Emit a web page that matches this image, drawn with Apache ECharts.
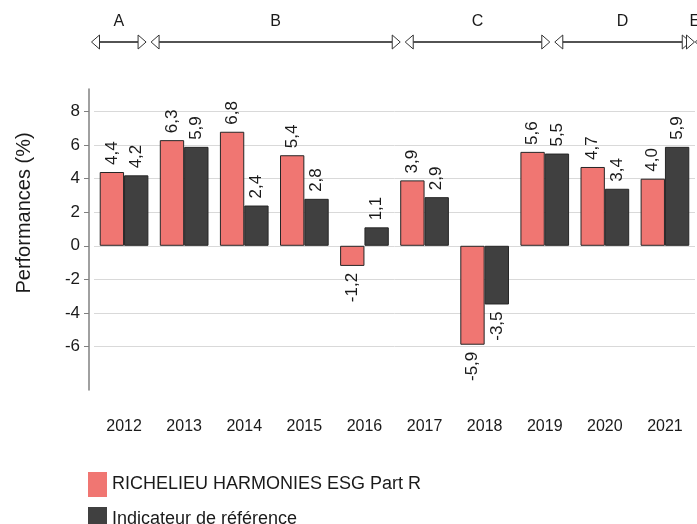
<!DOCTYPE html>
<html>
<head>
<meta charset="utf-8">
<script src="https://cdn.jsdelivr.net/npm/echarts@6/dist/echarts.min.js"></script>
<style>
html, body { margin: 0; padding: 0; background: #fff; }
#chart { width: 697px; height: 524px; }
</style>
</head>
<body>
<div id="chart"></div>
<script>
// données du graphique
var years = ['2012', '2013', '2014', '2015', '2016', '2017', '2018', '2019', '2020', '2021'];
var fundValues = [4.4, 6.3, 6.8, 5.4, -1.2, 3.9, -5.9, 5.6, 4.7, 4.0];
var benchValues = [4.2, 5.9, 2.4, 2.8, 1.1, 2.9, -3.5, 5.5, 3.4, 5.9];
var seriesNames = ['RICHELIEU HARMONIES ESG Part R', 'Indicateur de référence'];
var yTicks = [-6, -4, -2, 0, 2, 4, 6, 8];

// périodes (échelle continue en années)
var periodNames = ['A', 'B', 'C', 'D', 'E'];
var periodStart = [2012.0, 2012.98, 2017.16, 2019.62, 2021.93];
var periodEnd = [2012.98, 2017.16, 2019.62, 2021.93, 2022.0];

var FONT = '"Liberation Sans", Arial, sans-serif';

function formatValue(v) {
    return v.toFixed(1).replace('.', ',');
}

function barData(values) {
    return values.map(function(v) {
        return {
            value: v,
            label: v < 0 ? { position: 'bottom', align: 'right' } : {}
        };
    });
}

function renderPeriod(params, api) {
    var s = api.coord([api.value(0), 0]);
    var e = api.coord([api.value(1), 0]);
    var y = s[1];
    var x1 = s[0] + 2.5;
    var x2 = e[0] - 2.5;
    var d = 8, h = 7;
    var children = [];
    if (x2 - x1 > 2 * d) {
        children.push({
            type: 'line',
            shape: { x1: x1 + d, y1: y, x2: x2 - d, y2: y },
            style: { stroke: '#1a1a1a', lineWidth: 1.3 }
        });
    }
    children.push({
        type: 'polygon',
        shape: { points: [[x1, y], [x1 + d, y - h], [x1 + d, y + h]] },
        style: { fill: '#fff', stroke: '#333', lineWidth: 1 }
    });
    children.push({
        type: 'polygon',
        shape: { points: [[x2, y], [x2 - d, y - h], [x2 - d, y + h]] },
        style: { fill: '#fff', stroke: '#333', lineWidth: 1 }
    });
    children.push({
        type: 'text',
        style: {
            text: periodNames[params.dataIndex],
            x: (s[0] + e[0]) / 2,
            y: y - 20,
            align: 'center',
            verticalAlign: 'middle',
            fontSize: 16,
            fontFamily: FONT,
            fill: '#1a1a1a'
        }
    });
    return { type: 'group', children: children };
}

var chart = echarts.init(document.getElementById('chart'));

var barLabel = {
    show: true,
    rotate: 90,
    position: 'top',
    align: 'left',
    verticalAlign: 'middle',
    distance: 7,
    fontSize: 17,
    fontFamily: FONT,
    color: '#1a1a1a',
    formatter: function(p) { return formatValue(p.value); }
};

var option = {
    animation: false,
    textStyle: { fontFamily: FONT },
    grid: [
        { left: 94, right: 2, top: 89, bottom: 134 },
        { left: 89, right: 0, top: 30, height: 24 }
    ],
    legend: {
        data: seriesNames,
        orient: 'vertical',
        left: 83,
        top: 467,
        height: 90,
        icon: 'rect',
        itemWidth: 19,
        itemHeight: 25,
        itemGap: 10,
        itemStyle: { borderWidth: 0 },
        textStyle: { fontSize: 18, color: '#1a1a1a' }
    },
    xAxis: [{
        type: 'category',
        gridIndex: 0,
        data: years,
        axisLine: { show: false, onZero: false },
        axisTick: { show: false },
        axisLabel: { fontSize: 16, color: '#1a1a1a', margin: 29 }
    }, {
        type: 'value',
        gridIndex: 1,
        min: 2012,
        max: 2022,
        show: false
    }],
    yAxis: [{
        type: 'value',
        gridIndex: 0,
        min: -8.6,
        max: 9.35,
        offset: 5,
        axisLine: { show: true, lineStyle: { color: '#808080', width: 1.5 } },
        axisTick: { show: true, length: 5, customValues: yTicks, lineStyle: { color: '#808080', width: 1 } },
        axisLabel: { customValues: yTicks, fontSize: 17, color: '#1a1a1a', margin: 9 },
        splitLine: { show: true, lineStyle: { color: '#d9d9d9', width: 1 } }
    }, {
        type: 'value',
        gridIndex: 1,
        min: -1,
        max: 1,
        show: false
    }],
    graphic: [{
        type: 'text',
        x: 24,
        y: 213,
        rotation: Math.PI / 2,
        style: {
            text: 'Performances (%)',
            x: 0,
            y: 0,
            align: 'center',
            verticalAlign: 'middle',
            fontSize: 20,
            fontFamily: FONT,
            fill: '#1a1a1a'
        }
    }],
    series: [{
        name: seriesNames[0],
        type: 'bar',
        xAxisIndex: 0,
        yAxisIndex: 0,
        data: barData(fundValues),
        barGap: '0%',
        barCategoryGap: '19%',
        itemStyle: { color: '#f07672', borderColor: '#262626', borderWidth: 1 },
        label: barLabel
    }, {
        name: seriesNames[1],
        type: 'bar',
        xAxisIndex: 0,
        yAxisIndex: 0,
        data: barData(benchValues),
        barGap: '0%',
        barCategoryGap: '19%',
        itemStyle: { color: '#404040', borderColor: '#262626', borderWidth: 1 },
        label: barLabel
    }, {
        name: 'Périodes',
        type: 'custom',
        xAxisIndex: 1,
        yAxisIndex: 1,
        clip: false,
        silent: true,
        encode: { x: [0, 1] },
        renderItem: renderPeriod,
        data: periodStart.map(function(s, i) { return [s, periodEnd[i]]; })
    }]
};

chart.setOption(option);
</script>
</body>
</html>
